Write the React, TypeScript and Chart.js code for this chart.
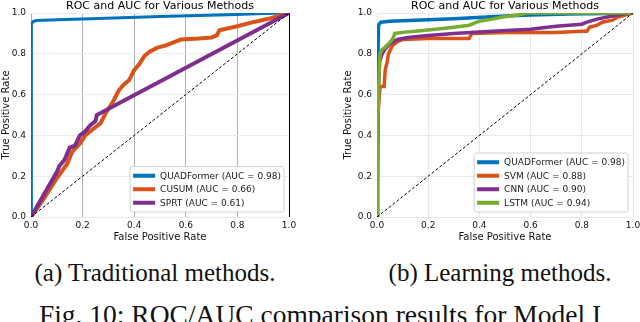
import React, { useEffect, useRef } from "react";
import { Chart, registerables } from "chart.js";

Chart.register(...registerables);

// ---------- Data: (a) Traditional methods ----------
const tradQuadFpr = [0, 0, 0.003, 0.008, 0.02, 0.1, 0.2, 0.35, 0.5, 0.65, 0.8, 0.9, 1];
const tradQuadTpr = [0, 0.9, 0.945, 0.958, 0.963, 0.967, 0.971, 0.977, 0.983, 0.988, 0.993, 0.997, 1];

const cusumFpr = [0, 0.05, 0.1, 0.14, 0.16, 0.19, 0.21, 0.24, 0.27, 0.29, 0.32, 0.34, 0.36, 0.38, 0.4, 0.42, 0.44, 0.46, 0.49, 0.52, 0.56, 0.58, 0.65, 0.7, 0.72, 0.73, 0.8, 0.86, 0.93, 1];
const cusumTpr = [0, 0.09, 0.19, 0.26, 0.32, 0.36, 0.4, 0.43, 0.46, 0.51, 0.57, 0.62, 0.65, 0.67, 0.72, 0.75, 0.79, 0.81, 0.83, 0.84, 0.86, 0.87, 0.875, 0.88, 0.89, 0.915, 0.935, 0.955, 0.975, 1];

const sprtFpr = [0, 0.05, 0.1, 0.11, 0.13, 0.15, 0.17, 0.19, 0.21, 0.23, 0.25, 0.255, 1];
const sprtTpr = [0, 0.11, 0.22, 0.25, 0.28, 0.34, 0.35, 0.4, 0.42, 0.45, 0.47, 0.5, 1];

const tradLabels = ["QUADFormer (AUC = 0.98)", "CUSUM (AUC = 0.66)", "SPRT (AUC = 0.61)"];

// ---------- Data: (b) Learning methods ----------
const learnQuadFpr = [0, 0, 0.002, 0.006, 0.015, 0.05, 0.15, 0.3, 0.5, 0.6, 0.75, 0.9, 1];
const learnQuadTpr = [0, 0.13, 0.6, 0.94, 0.955, 0.96, 0.965, 0.972, 0.985, 0.99, 0.995, 0.998, 1];

const svmFpr = [0, 0.004, 0.008, 0.012, 0.02, 0.028, 0.032, 0.04, 0.045, 0.06, 0.08, 0.1, 0.2, 0.36, 0.37, 0.5, 0.6, 0.7, 0.8, 0.82, 0.83, 0.86, 0.88, 0.92, 0.94, 1];
const svmTpr = [0, 0.5, 0.58, 0.64, 0.64, 0.64, 0.72, 0.76, 0.8, 0.84, 0.86, 0.87, 0.875, 0.875, 0.9, 0.905, 0.905, 0.905, 0.91, 0.91, 0.93, 0.94, 0.955, 0.965, 0.98, 1];

const cnnFpr = [0, 0.002, 0.006, 0.01, 0.02, 0.03, 0.05, 0.08, 0.12, 0.2, 0.3, 0.45, 0.6, 0.7, 0.8, 0.82, 0.86, 0.9, 0.94, 0.96, 1];
const cnnTpr = [0, 0.25, 0.65, 0.76, 0.8, 0.82, 0.85, 0.87, 0.88, 0.89, 0.9, 0.91, 0.92, 0.935, 0.945, 0.955, 0.97, 0.98, 0.99, 0.995, 1];

const lstmFpr = [0, 0.003, 0.005, 0.008, 0.012, 0.02, 0.03, 0.045, 0.06, 0.07, 0.1, 0.15, 0.23, 0.3, 0.36, 0.4, 0.45, 0.49, 0.55, 0.585, 0.7, 1];
const lstmTpr = [0, 0.45, 0.55, 0.7, 0.8, 0.82, 0.83, 0.85, 0.87, 0.9, 0.905, 0.91, 0.92, 0.93, 0.94, 0.96, 0.97, 0.98, 0.99, 1, 1, 1];

const learnLabels = ["QUADFormer (AUC = 0.98)", "SVM (AUC = 0.88)", "CNN (AUC = 0.90)", "LSTM (AUC = 0.94)"];

const diagFpr = [0, 1];
const diagTpr = [0, 1];

const axisTicks = [0, 0.2, 0.4, 0.6, 0.8, 1.0];

const plotTitle = "ROC and AUC for Various Methods";
const xTitle = "False Positive Rate";
const yTitle = "True Positive Rate";
const captionA = "(a) Traditional methods.";
const captionB = "(b) Learning methods.";
const figCaption = "Fig. 10: ROC/AUC comparison results for Model I";

const BLUE = "#0072BD";
const ORANGE = "#D95319";
const PURPLE = "#7E2F8E";
const GREEN = "#77AC30";

const FONT = "'DejaVu Sans', sans-serif";

function pts(xs: number[], ys: number[]) {
  return xs.map((x, i) => ({ x, y: ys[i] }));
}

function makeOverlay(title: string, items: { label: string; color: string }[]) {
  return {
    id: "overlay",
    afterDatasetsDraw(chart: any) {
      const { ctx, chartArea } = chart;
      ctx.save();
      ctx.font = `11px ${FONT}`;
      ctx.fillStyle = "#000";
      ctx.textAlign = "center";
      ctx.textBaseline = "alphabetic";
      ctx.fillText(title, (chartArea.left + chartArea.right) / 2, 9);

      ctx.font = `9px ${FONT}`;
      const tw = Math.max(...items.map((it) => ctx.measureText(it.label).width));
      const rowH = 13.5;
      const w = tw + 33;
      const h = items.length * rowH + 5;
      const x = chartArea.right - 5 - w;
      const y = chartArea.bottom - 5 - h;
      ctx.beginPath();
      const r = 2.5;
      ctx.moveTo(x + r, y);
      ctx.lineTo(x + w - r, y);
      ctx.quadraticCurveTo(x + w, y, x + w, y + r);
      ctx.lineTo(x + w, y + h - r);
      ctx.quadraticCurveTo(x + w, y + h, x + w - r, y + h);
      ctx.lineTo(x + r, y + h);
      ctx.quadraticCurveTo(x, y + h, x, y + h - r);
      ctx.lineTo(x, y + r);
      ctx.quadraticCurveTo(x, y, x + r, y);
      ctx.closePath();
      ctx.fillStyle = "rgba(255,255,255,0.85)";
      ctx.fill();
      ctx.strokeStyle = "#d0d0d0";
      ctx.lineWidth = 1;
      ctx.stroke();

      items.forEach((it, i) => {
        const cy = y + 2.5 + rowH * (i + 0.5);
        ctx.beginPath();
        ctx.strokeStyle = it.color;
        ctx.lineWidth = 4;
        ctx.lineCap = "butt";
        ctx.moveTo(x + 3, cy);
        ctx.lineTo(x + 25, cy);
        ctx.stroke();
        ctx.fillStyle = "#222";
        ctx.textAlign = "left";
        ctx.textBaseline = "middle";
        ctx.fillText(it.label, x + 30, cy + 0.5);
      });
      ctx.restore();
    },
  };
}

function makeOptions(pad: any, yWidth: number, xGridColor: any, yGridColor: any) {
  const tickFont = { family: FONT, size: 9 };
  const titleFont = { family: FONT, size: 10 };
  return {
    responsive: false,
    animation: false as const,
    events: [],
    layout: { padding: pad },
    plugins: { legend: { display: false }, tooltip: { enabled: false }, title: { display: false } },
    elements: { point: { radius: 0 }, line: { tension: 0 } },
    scales: {
      x: {
        type: "linear" as const,
        min: 0,
        max: 1,
        afterBuildTicks: (s: any) => {
          s.ticks = axisTicks.map((v) => ({ value: v }));
        },
        afterFit: (s: any) => {
          s.height = 33;
        },
        ticks: { font: tickFont, color: "#111", padding: 3, callback: (v: any) => Number(v).toFixed(1), maxRotation: 0, autoSkip: false },
        grid: { color: xGridColor, lineWidth: 1, drawTicks: false },
        border: { display: false },
        title: { display: true, text: xTitle, font: titleFont, color: "#111", padding: { top: 0, bottom: 7 } },
      },
      y: {
        type: "linear" as const,
        min: 0,
        max: 1,
        afterBuildTicks: (s: any) => {
          s.ticks = axisTicks.map((v) => ({ value: v }));
        },
        afterFit: (s: any) => {
          s.width = yWidth;
        },
        ticks: { font: tickFont, color: "#111", padding: 5, callback: (v: any) => Number(v).toFixed(1), autoSkip: false },
        grid: { color: yGridColor, lineWidth: 1, drawTicks: false },
        border: { display: false },
        title: { display: true, text: yTitle, font: titleFont, color: "#111", padding: { top: 0, bottom: 0 } },
      },
    },
  };
}

function line(data: any[], color: string, width: number, order: number, dash: number[] = []) {
  return {
    data,
    borderColor: color,
    backgroundColor: color,
    borderWidth: width,
    borderDash: dash,
    fill: false,
    pointRadius: 0,
    order,
  };
}

export default function App() {
  const refA = useRef<HTMLCanvasElement>(null);
  const refB = useRef<HTMLCanvasElement>(null);

  useEffect(() => {
    const chartA = new Chart(refA.current as HTMLCanvasElement, {
      type: "line",
      data: {
        datasets: [
          line(pts(tradQuadFpr, tradQuadTpr), BLUE, 3, 3),
          line(pts(cusumFpr, cusumTpr), ORANGE, 4, 2),
          line(pts(sprtFpr, sprtTpr), PURPLE, 4, 1),
          line(pts(diagFpr, diagTpr), "#000", 1, 0, [3, 2]),
        ] as any,
      },
      options: makeOptions(
        { top: 13, left: 0, right: 31, bottom: 0 },
        31,
        (c: any) => (c.tick && c.tick.value === 1 ? "#000" : "#b0b0b0"),
        "#ececec"
      ) as any,
      plugins: [
        makeOverlay(plotTitle, [
          { label: tradLabels[0], color: BLUE },
          { label: tradLabels[1], color: ORANGE },
          { label: tradLabels[2], color: PURPLE },
        ]),
      ],
    });

    const chartB = new Chart(refB.current as HTMLCanvasElement, {
      type: "line",
      data: {
        datasets: [
          line(pts(learnQuadFpr, learnQuadTpr), BLUE, 3.5, 4),
          line(pts(svmFpr, svmTpr), ORANGE, 3.5, 3),
          line(pts(cnnFpr, cnnTpr), PURPLE, 3.5, 2),
          line(pts(lstmFpr, lstmTpr), GREEN, 3.5, 1),
          line(pts(diagFpr, diagTpr), "#000", 1, 0, [3, 2]),
        ] as any,
      },
      options: makeOptions({ top: 13, left: 22, right: 17, bottom: 0 }, 35, "#e8e8e8", "#e8e8e8") as any,
      plugins: [
        makeOverlay(plotTitle, [
          { label: learnLabels[0], color: BLUE },
          { label: learnLabels[1], color: ORANGE },
          { label: learnLabels[2], color: PURPLE },
          { label: learnLabels[3], color: GREEN },
        ]),
      ],
    });

    return () => {
      chartA.destroy();
      chartB.destroy();
    };
  }, []);

  const capStyle: React.CSSProperties = {
    position: "absolute",
    fontFamily: "'Liberation Serif', 'Times New Roman', serif",
    whiteSpace: "nowrap",
    color: "#111",
    textAlign: "center",
  };

  return (
    <div
      style={{
        position: "fixed",
        left: 0,
        top: 0,
        width: 640,
        height: 322,
        overflow: "hidden",
        background: "#fff",
      }}
    >
      <canvas ref={refA} width={320} height={250} style={{ position: "absolute", left: 0, top: 0, width: 320, height: 250 }} />
      <canvas ref={refB} width={330} height={250} style={{ position: "absolute", left: 320, top: 0, width: 330, height: 250 }} />
      <div style={{ ...capStyle, left: 0, width: 310, top: 260, fontSize: 25, lineHeight: "25px" }}>{captionA}</div>
      <div style={{ ...capStyle, left: 350, width: 300, top: 260, fontSize: 25, lineHeight: "25px" }}>{captionB}</div>
      <div style={{ ...capStyle, left: 0, width: 640, top: 301, fontSize: 27.5, lineHeight: "27.5px" }}>{figCaption}</div>
    </div>
  );
}
